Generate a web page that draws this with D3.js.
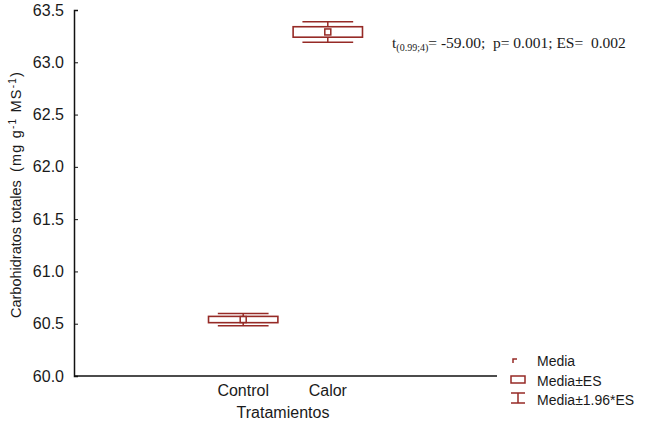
<!DOCTYPE html>
<html>
<head>
<meta charset="utf-8">
<script src="https://cdn.jsdelivr.net/npm/d3@7"></script>
<style>
  body { margin: 0; background: #fff; }
  text { font-family: "Liberation Sans", Arial, sans-serif; fill: #1a1a1a; white-space: pre; }
</style>
</head>
<body>
<script>
// data
var categories = ["Control", "Calor"];
var means = [60.54, 63.29];
var errs = [0.03, 0.05];          // ES
var yTicks = [60.0, 60.5, 61.0, 61.5, 62.0, 62.5, 63.0, 63.5];

var W = 650, H = 429;
var red = "#962a26";

var svg = d3.select("body").append("svg")
  .attr("width", W)
  .attr("height", H);

// categories sit at 1 and 2 on a -1..4 axis
var x = d3.scaleLinear().domain([-1, 4]).range([74, 497]);
var y = d3.scaleLinear().domain([60, 63.5]).range([376, 10]);

// y axis, ticks pointing inward
var yAxis = svg.append("g")
  .attr("transform", "translate(74,0)")
  .call(d3.axisRight(y).tickValues(yTicks).tickSize(4).tickFormat(""));
yAxis.select(".domain").attr("stroke", "#111").attr("stroke-width", 1.5);
yAxis.selectAll(".tick line").attr("stroke", "#111");

svg.selectAll(".ylab").data(yTicks).enter().append("text")
  .attr("class", "ylab")
  .attr("x", 64)
  .attr("y", function(d) { return y(d) + 5.5; })
  .attr("text-anchor", "end")
  .style("font-size", "16px")
  .text(function(d) { return d3.format(".1f")(d); });

// x axis line
svg.append("line")
  .attr("x1", 74).attr("x2", 497)
  .attr("y1", 376).attr("y2", 376)
  .attr("stroke", "#111").attr("stroke-width", 1.5);

svg.selectAll(".xlab").data(categories).enter().append("text")
  .attr("class", "xlab")
  .attr("x", function(d, i) { return x(i + 1); })
  .attr("y", 396)
  .attr("text-anchor", "middle")
  .style("font-size", "16px")
  .text(function(d) { return d; });

svg.append("text")
  .attr("x", 283).attr("y", 418)
  .attr("text-anchor", "middle")
  .style("font-size", "16px")
  .text("Tratamientos");

// y title
var yt = svg.append("text")
  .attr("transform", "translate(21,318) rotate(-90)")
  .style("font-size", "14.5px");
yt.append("tspan").text("Carbohidratos totales  ");
var unit = yt.append("tspan").style("letter-spacing", "1.2px");
unit.append("tspan").text("(mg g");
unit.append("tspan").attr("dy", -5).style("font-size", "10px").text("-1");
unit.append("tspan").attr("dy", 5).text(" MS");
unit.append("tspan").attr("dy", -5).style("font-size", "10px").text("-1");
unit.append("tspan").attr("dy", 5).text(")");

// boxes
var boxHalf = 0.41, whiskHalf = 0.3;
var g = svg.selectAll(".box").data(means).enter().append("g").attr("class", "box");

g.each(function(m, i) {
  var sel = d3.select(this);
  var cx = i + 1, e = errs[i];
  var lo = m - 1.96 * e, hi = m + 1.96 * e;
  // whisker caps and stems
  [lo, hi].forEach(function(v) {
    sel.append("line")
      .attr("x1", x(cx - whiskHalf)).attr("x2", x(cx + whiskHalf))
      .attr("y1", y(v)).attr("y2", y(v))
      .attr("stroke", red).attr("stroke-width", 1.5);
  });
  sel.append("line")
    .attr("x1", x(cx)).attr("x2", x(cx))
    .attr("y1", y(hi)).attr("y2", y(lo))
    .attr("stroke", red).attr("stroke-width", 1.5);
  sel.append("rect")
    .attr("x", x(cx - boxHalf))
    .attr("y", y(m + e))
    .attr("width", x(cx + boxHalf) - x(cx - boxHalf))
    .attr("height", y(m - e) - y(m + e))
    .attr("fill", "#fff")
    .attr("stroke", red).attr("stroke-width", 1.6);
  sel.append("rect")
    .attr("x", x(cx) - 3).attr("y", y(m) - 3)
    .attr("width", 6).attr("height", 6)
    .attr("fill", "#fff")
    .attr("stroke", red).attr("stroke-width", 1.5);
});

// test annotation
var ann = svg.append("text")
  .attr("x", 392).attr("y", 48)
  .style("font-family", "'Liberation Serif', 'Times New Roman', serif")
  .style("font-size", "15.5px");
ann.append("tspan").text("t");
ann.append("tspan").attr("dy", 3).style("font-size", "10px").text("(0.99;4)");
ann.append("tspan").attr("dy", -3).text("= -59.00;  p= 0.001; ES=  0.002");

// legend
var lx = 511;
svg.append("path")
  .attr("d", "M" + (lx + 2) + "," + 363 + "V" + 359 + "H" + (lx + 6))
  .attr("fill", "none").attr("stroke", red).attr("stroke-width", 1.5);
svg.append("rect")
  .attr("x", lx).attr("y", 376).attr("width", 14).attr("height", 7)
  .attr("fill", "#fff").attr("stroke", red).attr("stroke-width", 1.5);
svg.append("path")
  .attr("d", "M" + lx + ",393H" + (lx + 14) + "M" + (lx + 7) + ",393V403M" + lx + ",403H" + (lx + 14))
  .attr("fill", "none").attr("stroke", red).attr("stroke-width", 1.5);

var legTexts = ["Media", "Media\u00b1ES", "Media\u00b11.96*ES"];
svg.selectAll(".leg").data(legTexts).enter().append("text")
  .attr("class", "leg")
  .attr("x", 537)
  .attr("y", function(d, i) { return 366 + i * 19.5; })
  .style("font-size", "14px")
  .text(function(d) { return d; });
</script>
</body>
</html>
